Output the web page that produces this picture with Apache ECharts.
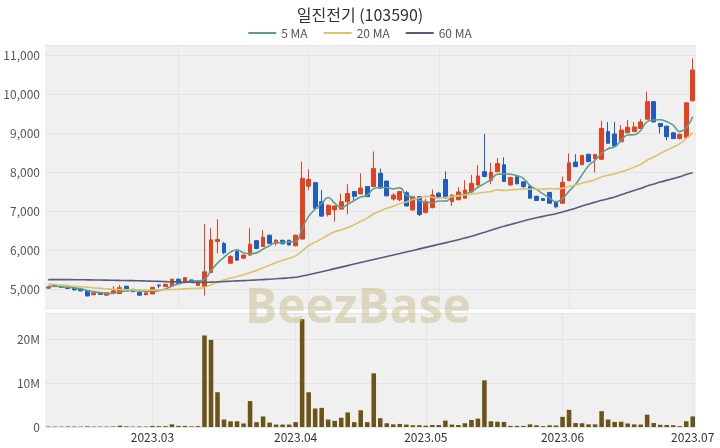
<!DOCTYPE html>
<html><head><meta charset="utf-8">
<script src="https://cdn.jsdelivr.net/npm/echarts@6/dist/echarts.min.js"></script>
<style>html,body{margin:0;padding:0;background:#fff}#c{width:720px;height:448px}</style>
</head><body><div id="c"></div>
<script>
const dates = [
'2023-02-07','2023-02-08','2023-02-09','2023-02-10','2023-02-13','2023-02-14','2023-02-15','2023-02-16','2023-02-17','2023-02-20','2023-02-21','2023-02-22','2023-02-23','2023-02-24','2023-02-27','2023-02-28',
'2023-03-02','2023-03-03','2023-03-06','2023-03-07','2023-03-08','2023-03-09','2023-03-10','2023-03-13','2023-03-14','2023-03-15','2023-03-16','2023-03-17','2023-03-20','2023-03-21','2023-03-22','2023-03-23','2023-03-24','2023-03-27','2023-03-28','2023-03-29','2023-03-30','2023-03-31',
'2023-04-03','2023-04-04','2023-04-05','2023-04-06','2023-04-07','2023-04-10','2023-04-11','2023-04-12','2023-04-13','2023-04-14','2023-04-17','2023-04-18','2023-04-19','2023-04-20','2023-04-21','2023-04-24','2023-04-25','2023-04-26','2023-04-27','2023-04-28',
'2023-05-01','2023-05-02','2023-05-03','2023-05-04','2023-05-08','2023-05-09','2023-05-10','2023-05-11','2023-05-12','2023-05-15','2023-05-16','2023-05-17','2023-05-18','2023-05-19','2023-05-22','2023-05-23','2023-05-24','2023-05-25','2023-05-26','2023-05-30','2023-05-31',
'2023-06-01','2023-06-02','2023-06-05','2023-06-07','2023-06-08','2023-06-09','2023-06-12','2023-06-13','2023-06-14','2023-06-15','2023-06-16','2023-06-19','2023-06-20','2023-06-21','2023-06-22','2023-06-23','2023-06-26','2023-06-27','2023-06-28','2023-06-29',
'2023-07-03'];

const opens = [5030,5100,5080,5060,5020,5000,4970,4860,4920,4850,4920,4890,5080,5000,4920,4860,
4880,5110,5070,5080,5260,5170,5240,5100,5070,5430,6230,6180,5670,5970,5800,5880,6250,6100,6390,6180,6260,6260,6120,
6290,7650,7740,7250,6920,7040,7060,7250,7510,7450,7640,7640,7980,7780,7320,7300,7480,7040,7380,6970,
7100,7470,7820,7250,7300,7340,7500,7680,8020,7800,8020,8200,7680,7890,7760,7650,7390,7330,7490,7250,
7210,7790,8270,8200,8470,8360,8340,9050,8990,8790,9020,9050,9130,9370,9820,9260,9190,9020,8870,8900,9840];
const closes = [5060,5070,5050,5020,4985,4960,4830,4910,4870,4910,4960,5040,5010,4940,4850,4910,
5050,5090,5130,5260,5150,5300,5200,5170,5450,6270,6280,5940,5840,5750,5880,6160,6050,6340,6180,6260,6170,6140,6390,
7850,7820,7080,6880,7160,7140,7250,7460,7390,7600,7380,8100,7600,7400,7420,7510,7140,7380,6920,7260,
7420,7370,7350,7420,7500,7550,7720,7910,7900,8010,8230,7770,7870,7710,7640,7340,7280,7280,7210,7120,
7750,8250,8150,8440,8280,8460,9130,8750,8680,9090,9160,9170,9300,9820,9300,9180,8920,8870,8980,9790,10630];
const lows = [5010,5060,5040,5010,4975,4950,4820,4850,4860,4840,4910,4880,5000,4930,4840,4850,
4870,5030,5060,5070,5140,5160,5180,5080,4840,5420,5920,5900,5650,5730,5790,5860,6030,6090,6160,6120,6150,6130,6100,
6280,7550,7070,6860,6870,6740,7050,6930,7290,7440,7370,7630,7580,7390,7280,7260,7130,7020,6880,6950,
7080,7320,7330,7140,7290,7330,7480,7660,7880,7700,8010,7760,7660,7700,7590,7330,7270,7270,7200,7080,
7200,7780,8140,8190,8270,8000,8330,8740,8670,8780,9010,9040,9120,9360,9290,9000,8830,8860,8850,8890,9830];
const highs = [5080,5110,5090,5070,5030,5010,4980,4920,4930,4920,5080,5110,5090,5010,4930,4920,
5060,5120,5140,5270,5270,5310,5250,5180,6680,6570,6800,6220,5880,6010,5900,6570,6260,6520,6400,6290,6270,6270,6400,
8280,8080,7750,7550,7170,7150,7460,7700,7520,7980,7650,8540,8100,7790,7470,7530,7530,7400,7390,7330,
7560,7500,8030,7440,7620,7800,7940,8190,8990,8250,8370,8390,7890,7900,7780,7660,7400,7340,7500,7260,
7900,8490,8470,8450,8480,8480,9330,9300,9300,9220,9350,9300,9370,10080,9830,9270,9200,9030,9000,9800,10930];
// volume in millions of shares
const volumes = [0.12,0.1,0.1,0.12,0.1,0.1,0.15,0.1,0.1,0.1,0.12,0.3,0.15,0.1,0.12,0.1,
0.25,0.2,0.2,0.6,0.25,0.25,0.15,0.2,20.8,19.8,7.9,1.7,1.3,1.3,0.8,5.9,1.1,2.4,1.0,0.55,0.55,0.55,1.1,
24.5,7.9,4.2,4.35,1.7,1.4,2.1,3.3,1.1,3.8,1.1,12.2,2.0,0.85,0.6,0.7,0.55,0.4,0.4,0.3,
0.45,0.45,1.45,0.55,0.45,0.85,1.6,1.9,10.6,1.3,1.2,1.15,0.25,0.25,0.25,0.6,0.4,0.2,0.4,0.35,
2.3,3.9,0.9,0.85,0.6,0.6,3.6,1.7,1.15,1.2,0.8,0.6,0.55,2.8,0.9,0.5,0.45,0.4,0.2,1.3,2.4];
const ma5Head = [5075,5078,5070,5055];
const ma20Head = [5135,5122,5108,5094,5080,5066,5052,5038,5025,5012,5002,4995,4990,4986,4983,4982,4983,4986,4990];
const ma60Head = [5250,5250,5249,5248,5247,5245,5243,5241,5238,5235,5232,5229,5226,5222,5218,5213,5208,5203,5198,5193,5188,5184,5180,5178,5178,
5185,5192,5200,5208,5216,5224,5232,5240,5250,5260,5270,5282,5295,5310,
5340,5375,5414,5453,5492,5531,5570,5609,5648,5687,5726,5765,5804,5843,5882,5921,5960,5999,6038,6077];
const maNames = ['5 MA','20 MA','60 MA'];

function movingAvg(n, head){
  return closes.map((c,i)=>{
    if(i < n-1) return head[i];
    let s=0; for(let k=i-n+1;k<=i;k++) s+=closes[k];
    return Math.round(s/n);
  });
}
const candleData = opens.map((o,i)=>[o, closes[i], lows[i], highs[i]]);
const monthStart = (i)=> i>0 && dates[i].slice(0,7)!==dates[i-1].slice(0,7);
const every20 = (i)=> i>0 && i%20===0;

const UP='#e5411e', DOWN='#1f5cc4';
const chart = echarts.init(document.getElementById('c'), null, {renderer:'canvas'});
const FONT='"Noto Sans CJK KR","Noto Sans",sans-serif';
chart.setOption({
  animation:false,
  backgroundColor:'#fff',
  textStyle:{fontFamily:FONT},
  title:{text:'일진전기 (103590)', left:'center', top:2,
    textStyle:{fontSize:16, fontWeight:'normal', color:'#333', fontFamily:FONT}},
  legend:{top:22, left:'center', data:maNames, icon:'rect', itemWidth:28, itemHeight:2, itemGap:16,
    textStyle:{fontSize:12, color:'#555'}},
  grid:[
    {left:45, right:24, top:45, height:263, show:true, backgroundColor:'#f0f0f0', borderWidth:0},
    {left:45, right:24, top:313, height:114, show:true, backgroundColor:'#f0f0f0', borderWidth:0}
  ],
  xAxis:[
    {type:'category', gridIndex:0, data:dates, boundaryGap:true,
     axisLine:{show:false}, axisTick:{show:false}, axisLabel:{show:false},
     splitLine:{show:true, interval:every20, alignWithLabel:true, lineStyle:{color:'#e4e4e4', width:1}}},
    {type:'category', gridIndex:1, data:dates, boundaryGap:true,
     axisLine:{show:false}, axisTick:{show:false},
     axisLabel:{interval:monthStart, formatter:(v)=>v.slice(0,7).replace('-','.'), color:'#333', fontSize:12, margin:4},
     splitLine:{show:true, interval:monthStart, alignWithLabel:true, lineStyle:{color:'#e4e4e4', width:1}}}
  ],
  yAxis:[
    {type:'value', gridIndex:0, min:4520, max:11275, splitNumber:7, scale:true,
     axisLine:{show:false}, axisTick:{show:false},
     axisLabel:{showMinLabel:false, showMaxLabel:false, color:'#555', fontSize:12, margin:5,
       formatter:(v)=>v.toLocaleString('en-US')},
     splitLine:{lineStyle:{color:'#e4e4e4'}}},
    {type:'value', gridIndex:1, min:0, max:25.9, splitNumber:3,
     axisLine:{show:false}, axisTick:{show:false},
     axisLabel:{showMaxLabel:false, color:'#555', fontSize:12, margin:5,
       formatter:(v)=> v===0 ? '0' : v+'M'},
     splitLine:{lineStyle:{color:'#e4e4e4'}}}
  ],
  graphic:[{type:'text', left:245, top:285, z:100, silent:true,
    style:{text:'BeezBase', font:'bold 48px "Open Sans", Lato, sans-serif', fill:'rgba(200,188,140,0.5)'}}],
  series:[
    {type:'candlestick', name:'price', xAxisIndex:0, yAxisIndex:0, data:candleData, barWidth:'65%',
     itemStyle:{color:UP, color0:DOWN, borderColor:UP, borderColor0:DOWN, borderWidth:1}},
    {type:'line', name:maNames[0], xAxisIndex:0, yAxisIndex:0, data:movingAvg(5, ma5Head), symbol:'none', smooth:true,
     itemStyle:{color:'#5e9f8b'}, lineStyle:{color:'#5e9f8b', width:1.6}},
    {type:'line', name:maNames[1], xAxisIndex:0, yAxisIndex:0, data:movingAvg(20, ma20Head), symbol:'none', smooth:true,
     itemStyle:{color:'#dcc36c'}, lineStyle:{color:'#dcc36c', width:1.6}},
    {type:'line', name:maNames[2], xAxisIndex:0, yAxisIndex:0, data:movingAvg(60, ma60Head), symbol:'none', smooth:true,
     itemStyle:{color:'#5a5a7c'}, lineStyle:{color:'#5a5a7c', width:1.6}},
    {type:'bar', name:'volume', xAxisIndex:1, yAxisIndex:1, data:volumes, barWidth:'70%',
     itemStyle:{color:'#6b5418'}}
  ]
});
</script></body></html>
